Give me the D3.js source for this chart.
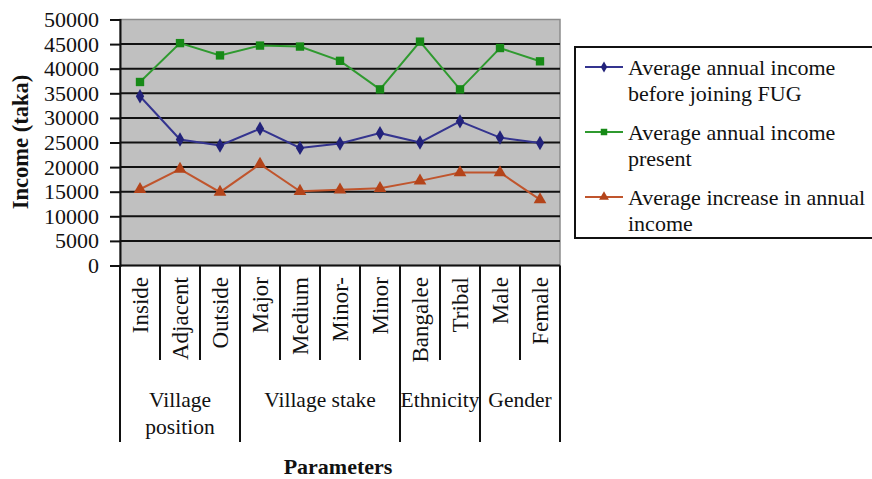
<!DOCTYPE html>
<html>
<head>
<meta charset="utf-8">
<script src="https://cdn.jsdelivr.net/npm/d3@7"></script>
<style>
  html, body { margin: 0; padding: 0; background: #fff; }
  svg { display: block; }
  svg text { font-family: "Liberation Serif", "Times New Roman", serif; fill: #111; }
</style>
</head>
<body>
<svg id="chart" width="872" height="479"></svg>
<script>
// Categories and their grouping along the x axis
const categories = ["Inside", "Adjacent", "Outside", "Major", "Medium", "Minor-", "Minor", "Bangalee", "Tribal", "Male", "Female"];
const groupLabels = [["Village", "position"], ["Village stake"], ["Ethnicity"], ["Gender"]];
const groupSizes = [3, 4, 2, 2];

// Income series (taka)
const incomeBefore   = [34400, 25600, 24400, 27800, 23900, 24800, 26900, 25000, 29300, 26000, 24900];
const incomePresent  = [37300, 45200, 42700, 44700, 44500, 41600, 35800, 45500, 35800, 44200, 41500];
const incomeIncrease = [15500, 19600, 14900, 20600, 15100, 15400, 15700, 17200, 18900, 18900, 13400];

const seriesNames = ["Average annual income before joining FUG", "Average annual income present", "Average increase in annual income"];
const legendLines = [["Average annual income", "before joining FUG"], ["Average annual income", "present"], ["Average increase in annual", "income"]];

const yTicks = [0, 5000, 10000, 15000, 20000, 25000, 30000, 35000, 40000, 45000, 50000];

const svg = d3.select("#chart");
const plot = { left: 120, right: 560, top: 19.5, bottom: 265.5 };

const x = d3.scaleBand().domain(categories).range([plot.left, plot.right]).padding(0);
const y = d3.scaleLinear().domain([0, 50000]).range([plot.bottom, plot.top]);

// Plot background
svg.append("rect")
  .attr("x", plot.left).attr("y", plot.top)
  .attr("width", plot.right - plot.left).attr("height", plot.bottom - plot.top)
  .attr("fill", "#c0c0c0")
  .attr("stroke", "#8c8c8c").attr("stroke-width", 1.5);

// Horizontal gridlines
svg.append("g").selectAll("line")
  .data(yTicks.filter(d => d > 0 && d < 50000))
  .join("line")
  .attr("x1", plot.left).attr("x2", plot.right)
  .attr("y1", d => y(d)).attr("y2", d => y(d))
  .attr("stroke", "#111").attr("stroke-width", 2);

// Y axis
const yAxis = svg.append("g")
  .attr("transform", `translate(${plot.left},0)`)
  .call(d3.axisLeft(y).tickValues(yTicks).tickFormat(d3.format("d")).tickSize(10).tickPadding(11));
yAxis.select(".domain").attr("stroke", "#111").attr("stroke-width", 2);
yAxis.selectAll(".tick line").attr("stroke", "#111").attr("stroke-width", 2);
yAxis.selectAll(".tick text").attr("font-size", 22);

// X axis baseline
svg.append("line")
  .attr("x1", plot.left).attr("x2", plot.right)
  .attr("y1", plot.bottom).attr("y2", plot.bottom)
  .attr("stroke", "#111").attr("stroke-width", 2);

// Category table below the axis: dividers and rotated labels
const groupStarts = d3.cumsum([0, ...groupSizes]);
const groupBoundaryIdx = new Set(groupStarts);
const boundaries = d3.range(categories.length + 1);
svg.append("g").selectAll("line")
  .data(boundaries)
  .join("line")
  .attr("x1", i => plot.left + i * x.step()).attr("x2", i => plot.left + i * x.step())
  .attr("y1", plot.bottom)
  .attr("y2", i => groupBoundaryIdx.has(i) ? 442 : 360)
  .attr("stroke", "#111").attr("stroke-width", 2);

svg.append("g").selectAll("text")
  .data(categories)
  .join("text")
  .attr("transform", d => `translate(${x(d) + x.bandwidth() / 2},277) rotate(-90)`)
  .attr("text-anchor", "end")
  .attr("dy", "0.35em")
  .attr("font-size", 23)
  .text(d => d);

// Group labels
const groupText = svg.append("g").selectAll("text")
  .data(groupLabels.map((lines, i) => ({ lines, start: groupStarts[i], end: groupStarts[i + 1] })))
  .join("text")
  .attr("text-anchor", "middle")
  .attr("font-size", 21.5);
groupText.selectAll("tspan")
  .data(g => g.lines.map((t, k) => ({ t, k, cx: plot.left + (g.start + g.end) / 2 * x.step() })))
  .join("tspan")
  .attr("x", d => d.cx)
  .attr("y", d => 407 + d.k * 27)
  .text(d => d.t);

// Axis titles
svg.append("text")
  .attr("x", 338).attr("y", 474)
  .attr("text-anchor", "middle")
  .attr("font-size", 22).attr("font-weight", "bold")
  .text("Parameters");

svg.append("text")
  .attr("transform", "translate(20,142) rotate(-90)")
  .attr("text-anchor", "middle").attr("dy", "0.35em")
  .attr("font-size", 22.5).attr("font-weight", "bold")
  .text("Income (taka)");

// Series lines and markers
const series = [
  { name: seriesNames[0], values: incomeBefore,   line: "#34348f", mark: "#22227a", symbol: d3.symbolDiamond,  size: 60 },
  { name: seriesNames[1], values: incomePresent,  line: "#2f9a2f", mark: "#178a17", symbol: d3.symbolSquare,   size: 70 },
  { name: seriesNames[2], values: incomeIncrease, line: "#c0552d", mark: "#b4441a", symbol: d3.symbolTriangle, size: 70 }
];

const lineGen = d3.line()
  .x((d, i) => x(categories[i]) + x.bandwidth() / 2)
  .y(d => y(d));

series.forEach(s => {
  svg.append("path")
    .datum(s.values)
    .attr("d", lineGen)
    .attr("fill", "none")
    .attr("stroke", s.line).attr("stroke-width", 2);
  svg.append("g").selectAll("path")
    .data(s.values)
    .join("path")
    .attr("transform", (d, i) => `translate(${x(categories[i]) + x.bandwidth() / 2},${y(d)})`)
    .attr("d", d3.symbol().type(s.symbol).size(s.size))
    .attr("fill", s.mark);
});

// Legend
const legend = svg.append("g");
legend.append("rect")
  .attr("x", 575).attr("y", 47)
  .attr("width", 320).attr("height", 191)
  .attr("fill", "#fff").attr("stroke", "#111").attr("stroke-width", 2);

const legendItems = legend.selectAll("g.item")
  .data(series)
  .join("g")
  .attr("class", "item")
  .attr("transform", (d, i) => `translate(0,${67 + i * 65})`);
legendItems.append("line")
  .attr("x1", 585).attr("x2", 623).attr("y1", 0).attr("y2", 0)
  .attr("stroke", d => d.line).attr("stroke-width", 2);
legendItems.append("path")
  .attr("transform", "translate(604,0)")
  .attr("d", d => d3.symbol().type(d.symbol).size(d.size * 0.6)())
  .attr("fill", d => d.mark);
legendItems.append("text")
  .attr("font-size", 22)
  .selectAll("tspan")
  .data((d, i) => legendLines[i])
  .join("tspan")
  .attr("x", 628)
  .attr("y", (t, k) => 8 + k * 26)
  .text(t => t);
</script>
</body>
</html>
